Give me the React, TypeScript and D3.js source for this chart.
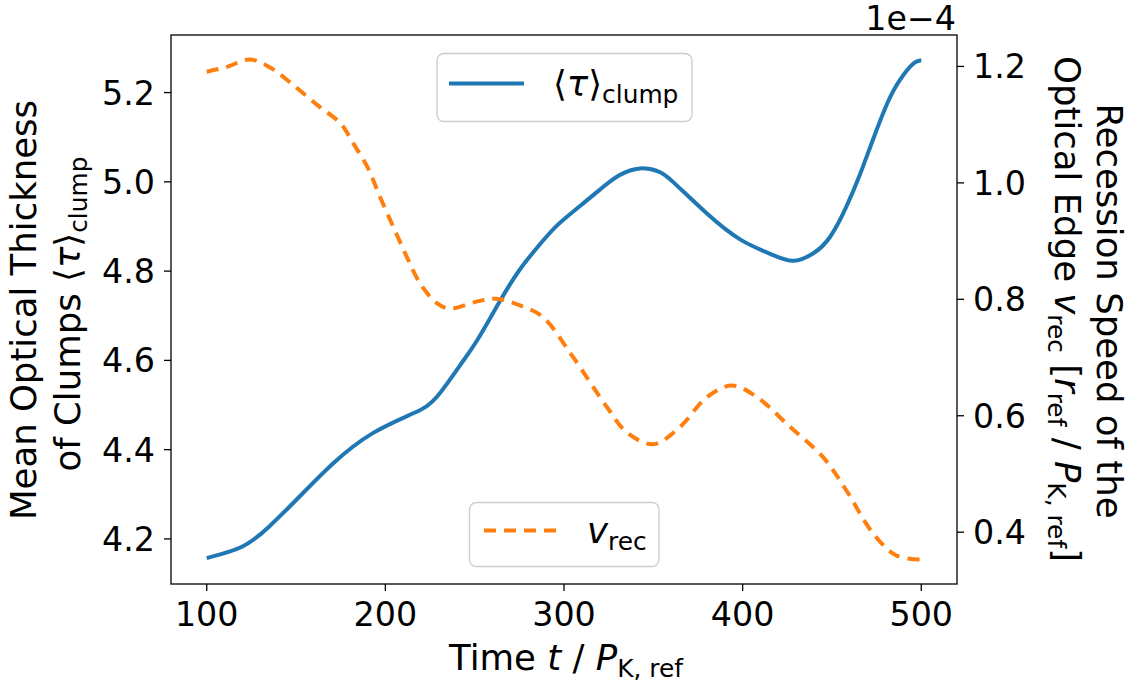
import React from "react";
import * as d3 from "d3";

// ---- data ----
const tauTimes = [100, 120, 135, 152, 171, 193, 216, 229, 242, 252, 264, 275, 285, 296, 309, 322, 331, 342.5, 353, 361, 380, 399, 417, 428.4, 439.6, 449, 458, 466, 473, 481, 488, 495.6, 500];
const tauValues = [4.157, 4.183, 4.228, 4.295, 4.37, 4.437, 4.482, 4.519, 4.59, 4.649, 4.732, 4.802, 4.853, 4.902, 4.946, 4.989, 5.015, 5.03, 5.023, 5.0, 4.929, 4.87, 4.836, 4.823, 4.84, 4.877, 4.944, 5.02, 5.095, 5.176, 5.228, 5.265, 5.272];

const vrecTimes = [100, 111, 124, 135, 148.5, 163, 175, 182, 190, 197, 204.5, 212, 219.5, 229, 236, 251, 262, 275, 288, 305, 324, 335, 350, 365, 380, 394, 408, 426.5, 445, 458, 473, 486, 500];
const vrecValues = [1.191e-4, 1.199e-4, 1.212e-4, 1.199e-4, 1.168e-4, 1.131e-4, 1.102e-4, 1.068e-4, 1.027e-4, 0.976e-4, 0.924e-4, 0.873e-4, 0.827e-4, 0.793e-4, 0.784e-4, 0.796e-4, 0.801e-4, 0.79e-4, 0.77e-4, 0.701e-4, 0.615e-4, 0.572e-4, 0.551e-4, 0.581e-4, 0.632e-4, 0.652e-4, 0.632e-4, 0.581e-4, 0.529e-4, 0.472e-4, 0.398e-4, 0.36e-4, 0.353e-4];

const xTicks = [100, 200, 300, 400, 500];
const tauTicks = [4.2, 4.4, 4.6, 4.8, 5.0, 5.2];
const vrecTicks = [0.4e-4, 0.6e-4, 0.8e-4, 1.0e-4, 1.2e-4];

const BLUE = "#1f77b4";
const ORANGE = "#ff7f0e";
const FONT = "'DejaVu Sans', sans-serif";

export default function App() {
  const W = 1139, H = 684;
  const left = 171, right = 957, top = 35, bottom = 584;
  const x = d3.scaleLinear().domain([80, 520]).range([left, right]);
  const yL = d3.scaleLinear().domain([4.099, 5.329]).range([bottom, top]);
  const yR = d3.scaleLinear().domain([0.311e-4, 1.254e-4]).range([bottom, top]);

  const tauLine = d3
    .line<number>()
    .x((_, i) => x(tauTimes[i]))
    .y((d) => yL(d))
    .curve(d3.curveNatural);
  const vLine = d3
    .line<number>()
    .x((_, i) => x(vrecTimes[i]))
    .y((d) => yR(d))
    .curve(d3.curveCatmullRom.alpha(0.5));

  const tickFs = 33.3;
  const labFs = 35.5;
  const subFs = labFs * 0.7;
  const subDy = 7;

  return (
    <svg
      width={W}
      height={H}
      style={{ position: "absolute", left: 0, top: 0, background: "#fff" }}
      fontFamily={FONT}
    >
      <rect x={0} y={0} width={W} height={H} fill="#fff" />
      <defs>
        <clipPath id="plotclip">
          <rect x={left} y={top} width={right - left} height={bottom - top} />
        </clipPath>
      </defs>

      {/* lines */}
      <g clipPath="url(#plotclip)">
        <path d={tauLine(tauValues) || ""} fill="none" stroke={BLUE} strokeWidth={4} strokeLinejoin="round" />
      </g>

      {/* legend 1 */}
      <g>
        <rect x={437} y={53.5} width={255} height={68} rx={7} fill="#fff" fillOpacity={0.8} stroke="#cccccc" strokeWidth={1.3} />
        <line x1={449} x2={524} y1={83.5} y2={83.5} stroke={BLUE} strokeWidth={4} />
        <text x={553} y={96} fontSize={labFs} fill="#000">
          ⟨<tspan fontStyle="italic">τ</tspan>⟩
          <tspan fontSize={subFs} dy={subDy}>clump</tspan>
        </text>
      </g>

      <g clipPath="url(#plotclip)">
        <path d={vLine(vrecValues) || ""} fill="none" stroke={ORANGE} strokeWidth={4} strokeDasharray="12,8" />
      </g>

      {/* legend 2 */}
      <g>
        <rect x={469.5} y={502.5} width={189.5} height={64} rx={7} fill="#fff" fillOpacity={0.8} stroke="#cccccc" strokeWidth={1.3} />
        <line x1={484} x2={558} y1={530.5} y2={530.5} stroke={ORANGE} strokeWidth={4} strokeDasharray="12,8" />
        <text x={587} y={543} fontSize={labFs} fill="#000">
          <tspan fontStyle="italic">v</tspan>
          <tspan fontSize={subFs} dy={subDy}>rec</tspan>
        </text>
      </g>

      {/* frame */}
      <rect x={left} y={top} width={right - left} height={bottom - top} fill="none" stroke="#000" strokeWidth={1.3} />

      {/* x ticks */}
      {xTicks.map((t) => (
        <g key={"x" + t}>
          <line x1={x(t)} x2={x(t)} y1={bottom} y2={bottom + 7} stroke="#000" strokeWidth={1.3} />
          <text x={x(t)} y={626} textAnchor="middle" fontSize={tickFs}>
            {t}
          </text>
        </g>
      ))}

      {/* left ticks */}
      {tauTicks.map((t) => (
        <g key={"l" + t}>
          <line x1={left - 7} x2={left} y1={yL(t)} y2={yL(t)} stroke="#000" strokeWidth={1.3} />
          <text x={155} y={yL(t) + 12} textAnchor="end" fontSize={tickFs}>
            {t.toFixed(1)}
          </text>
        </g>
      ))}

      {/* right ticks */}
      {vrecTicks.map((t) => (
        <g key={"r" + t}>
          <line x1={right} x2={right + 7} y1={yR(t)} y2={yR(t)} stroke="#000" strokeWidth={1.3} />
          <text x={973} y={yR(t) + 12} textAnchor="start" fontSize={tickFs}>
            {(t / 1e-4).toFixed(1)}
          </text>
        </g>
      ))}

      {/* offset text */}
      <text x={956} y={30} textAnchor="end" fontSize={tickFs}>
        1e−4
      </text>

      {/* x label */}
      <text x={566} y={670} textAnchor="middle" fontSize={labFs}>
        Time <tspan fontStyle="italic">t</tspan>
        <tspan> / </tspan>
        <tspan fontStyle="italic">P</tspan>
        <tspan fontSize={subFs} dy={subDy}>K, ref</tspan>
      </text>

      {/* left y label */}
      <g transform="translate(36,310) rotate(-90)">
        <text x={0} y={0} textAnchor="middle" fontSize={labFs}>
          Mean Optical Thickness
        </text>
      </g>
      <g transform="translate(80,314) rotate(-90)">
        <text x={0} y={0} textAnchor="middle" fontSize={labFs}>
          of Clumps ⟨<tspan fontStyle="italic">τ</tspan>⟩
          <tspan fontSize={subFs} dy={subDy}>clump</tspan>
        </text>
      </g>

      {/* right y label */}
      <g transform="translate(1097,311) rotate(90)">
        <text x={0} y={0} textAnchor="middle" fontSize={labFs}>
          Recession Speed of the
        </text>
      </g>
      <g transform="translate(1055,309) rotate(90)">
        <text x={0} y={0} textAnchor="middle" fontSize={labFs}>
          Optical Edge <tspan fontStyle="italic">v</tspan>
          <tspan fontSize={subFs} dy={subDy}>rec</tspan>
          <tspan dy={-subDy}> [</tspan>
          <tspan fontStyle="italic">r</tspan>
          <tspan fontSize={subFs} dy={subDy}>ref</tspan>
          <tspan dy={-subDy}> / </tspan>
          <tspan fontStyle="italic">P</tspan>
          <tspan fontSize={subFs} dy={subDy}>K, ref</tspan>
          <tspan dy={-subDy}>]</tspan>
        </text>
      </g>
    </svg>
  );
}
